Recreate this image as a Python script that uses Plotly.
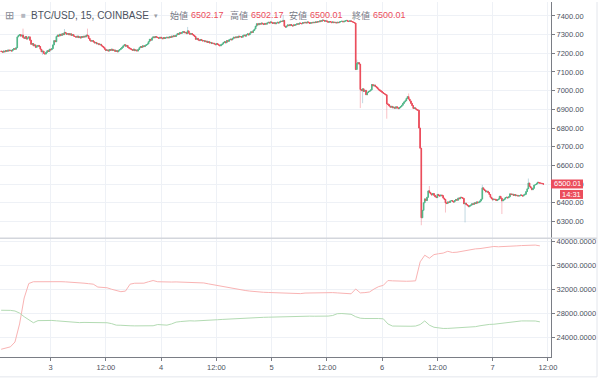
import plotly.graph_objects as go
import pandas as pd

# ---------------- data ----------------
candle_start = "2018-09-02 13:15"   # 15-minute candles
closes = [
    7210, 7206, 7212, 7208, 7215, 7211, 7218, 7214,
    7216, 7212, 7220, 7225, 7222, 7230, 7288, 7296,
    7300, 7292, 7298, 7285, 7280, 7290, 7276, 7282,
    7288, 7270, 7248, 7252, 7240, 7245, 7232, 7238,
    7242, 7236, 7222, 7208, 7212, 7200, 7196, 7205,
    7214, 7210, 7222, 7218, 7225, 7245, 7268, 7262,
    7290, 7298, 7292, 7302, 7296, 7305, 7300, 7312,
    7308, 7302, 7306, 7298, 7304, 7296, 7300, 7292,
    7290, 7286, 7292, 7284, 7288, 7282, 7290, 7286,
    7292, 7288, 7298, 7294, 7280, 7270, 7265, 7268,
    7262, 7255, 7258, 7250, 7252, 7246, 7248, 7240,
    7236, 7230, 7222, 7215, 7218, 7212, 7220, 7216,
    7222, 7215, 7218, 7210, 7214, 7208, 7216, 7220,
    7226, 7232, 7240, 7246, 7238, 7242, 7232, 7228,
    7224, 7220, 7216, 7222, 7214, 7218, 7212, 7220,
    7230, 7236, 7232, 7240, 7236, 7242, 7246, 7250,
    7262, 7275, 7270, 7282, 7288, 7284, 7290, 7286,
    7284, 7280, 7286, 7282, 7278, 7284, 7280, 7283,
    7286, 7282, 7288, 7285, 7292, 7288, 7294, 7290,
    7298, 7305, 7302, 7310, 7306, 7312, 7316, 7310,
    7312, 7305, 7320, 7308, 7302, 7306, 7300, 7296,
    7290, 7275, 7280, 7272, 7268, 7274, 7270, 7266,
    7268, 7262, 7265, 7258, 7262, 7255, 7258, 7252,
    7254, 7250, 7246, 7252, 7248, 7244, 7240, 7246,
    7250, 7258, 7262, 7256, 7268, 7264, 7272, 7276,
    7272, 7280, 7286, 7282, 7288, 7284, 7292, 7288,
    7290, 7286, 7294, 7298, 7292, 7300, 7304, 7298,
    7308, 7315, 7312, 7322, 7330, 7345, 7358, 7352,
    7360, 7356, 7362, 7358, 7354, 7360, 7356, 7362,
    7366, 7362, 7368, 7364, 7360, 7364, 7358, 7362,
    7366, 7362, 7368, 7372, 7370, 7376, 7345, 7340,
    7346, 7352, 7348, 7354, 7350, 7346, 7352, 7350,
    7354, 7358, 7356, 7362, 7360, 7358, 7364, 7362,
    7366, 7362, 7368, 7364, 7360, 7364, 7362, 7366,
    7364, 7368, 7366, 7370, 7368, 7374, 7372, 7378,
    7376, 7372, 7374, 7370, 7366, 7370, 7368, 7364,
    7368, 7364, 7366, 7362, 7366, 7364, 7368, 7370,
    7372, 7368, 7372, 7374, 7376, 7372, 7370, 7374,
    7370, 7368, 7365, 7362, 7113, 7145, 7150, 7142,
    7006, 7000, 7010, 6996, 7002, 6978, 6990, 6996,
    6998, 7004, 7033, 7025, 7030, 7022, 7018, 7010,
    7005, 7000, 6996, 6990, 6985, 6982, 6978, 6930,
    6926, 6918, 6912, 6916, 6908, 6912, 6906, 6914,
    6908, 6904, 6910, 6915, 6922, 6932, 6940, 6946,
    6958, 6968, 6955, 6945, 6932, 6920, 6905, 6908,
    6902, 6898, 6895, 6800, 6692, 6320, 6360, 6400,
    6421, 6412, 6430, 6464, 6455, 6448, 6442, 6450,
    6440, 6432, 6428, 6445, 6440, 6436, 6442, 6438,
    6425, 6418, 6400, 6396, 6405, 6402, 6410, 6412,
    6408, 6404, 6412, 6418, 6414, 6426, 6422, 6430,
    6428, 6424, 6395, 6398, 6390, 6386, 6379, 6384,
    6388, 6395, 6392, 6400, 6396, 6405, 6400, 6404,
    6410, 6420, 6480, 6472, 6466, 6458, 6462, 6455,
    6445, 6430, 6422, 6416, 6420, 6418, 6412, 6416,
    6420, 6435, 6425, 6410, 6415, 6420, 6428, 6430,
    6426, 6432, 6448, 6444, 6446, 6440, 6444, 6438,
    6440, 6436, 6438, 6442, 6440, 6436, 6442, 6446,
    6460, 6475, 6506, 6488, 6480, 6470, 6478, 6495,
    6498, 6502, 6510, 6508, 6505, 6504, 6502.17, 6500.01,
]
first_open = 7212
high_wick_idx = [19, 55, 75, 162, 245, 309, 354, 372, 418, 458]
high_wick_val = [7332, 7330, 7332, 7341, 7405, 7166, 6985, 6490, 6496, 6530]
low_wick_idx = [36, 312, 314, 335, 365, 386, 403, 435]
low_wick_val = [7192, 6907, 6933, 6850, 6280, 6348, 6295, 6340]

# lower-pane indicator lines (hourly samples)
red_line = [
    22100, 22300, 22500, 23300, 26300, 30600, 33000, 33300, 33320, 33280,
    33300, 33340, 33290, 33310, 33280, 33250, 33200, 33100, 33060, 32980,
    32900, 32420, 32350, 32300, 32050, 31900, 31650, 31750, 32900, 33050,
    33080, 33060, 33300, 33500, 33300, 33260, 33280, 33250, 33270, 33240,
    33280, 33250, 33220, 33200, 33100, 32950, 32800, 32650, 32600, 32450,
    32300, 32150, 32000, 31850, 31750, 31650, 31600, 31550, 31520, 31480,
    31450, 31430, 31400, 31380, 31350, 31330, 31420, 31450, 31480, 31500,
    31520, 31560, 31500, 31450, 31400, 31330, 31300, 32100, 31450, 31500,
    31600, 32100, 32500, 32700, 33500, 33450, 33400, 33420, 33380, 33400,
    33450, 36600, 37700, 37200, 37800, 37950, 38050, 38350, 38150, 38200,
    38350, 38500, 38700, 38750, 38800, 38900, 39000, 39150, 39100, 39120,
    39100, 39200, 39250, 39300, 39350, 39400, 39380, 39250,
]
green_line = [
    28570, 28600, 28550, 28450, 28100, 27500, 27000, 26500, 26850, 26900,
    26850, 26880, 26820, 26750, 26650, 26550, 26540, 26520, 26550, 26540,
    26530, 26520, 26540, 26500, 26350, 26100, 26080, 26100, 26000, 25980,
    25960, 25990, 25970, 26000, 26200, 26150, 26100, 26300, 26600, 26700,
    26800, 26820, 26790, 26810, 26850, 26900, 26950, 27000, 27050, 27100,
    27150, 27200, 27250, 27280, 27300, 27350, 27380, 27400, 27420, 27450,
    27480, 27500, 27520, 27540, 27560, 27580, 27570, 27590, 27580, 27560,
    27590, 27600, 27700, 28000, 28030, 27950, 27900, 27500, 27250, 27200,
    27220, 27180, 27200, 27150, 26300, 25950, 25920, 25930, 25900, 25920,
    25950, 26200, 26800, 26100, 25750, 25600, 25550, 25560, 25600, 25700,
    25800, 25820, 25810, 25850, 26000, 26150, 26220, 26250, 26350, 26400,
    26500, 26600, 26750, 26800, 26800, 26810, 26790, 26650,
]

x_tick_vals = ["2018-09-03 00:00", "2018-09-03 12:00", "2018-09-04 00:00", "2018-09-04 12:00",
               "2018-09-05 00:00", "2018-09-05 12:00", "2018-09-06 00:00", "2018-09-06 12:00",
               "2018-09-07 00:00", "2018-09-07 12:00"]
x_tick_text = ["3", "12:00", "4", "12:00", "5", "12:00", "6", "12:00", "7", "12:00"]
price_ticks = [6300, 6400, 6500, 6600, 6700, 6800, 6900, 7000, 7100, 7200, 7300, 7400]
ind_ticks = [24000, 28000, 32000, 36000, 40000]

header_open, header_high, header_low, header_close = "6502.17", "6502.17", "6500.01", "6500.01"
last_price_text = "6500.01"
countdown_text = "14:31"

# ---------------- build ----------------
times = pd.date_range(candle_start, periods=len(closes), freq="15min")
opens = [first_open] + closes[:-1]
body_hi = [max(o, c) for o, c in zip(opens, closes)]
body_lo = [min(o, c) for o, c in zip(opens, closes)]
highs = list(body_hi)
lows = list(body_lo)
for i, v in zip(high_wick_idx, high_wick_val):
    highs[i] = max(highs[i], v)
for i, v in zip(low_wick_idx, low_wick_val):
    lows[i] = min(lows[i], v)
line_times = times[::4][:len(red_line)]

UP, DOWN = "#53b987", "#eb4d5c"
GRID = "#eef1f6"
AX = "#7a7d85"
TXT = "#4c525e"
FONT = "Liberation Sans, Arial, Noto Sans CJK JP, sans-serif"

fig = go.Figure()
fig.add_trace(go.Candlestick(
    x=times, open=opens, high=highs, low=lows, close=closes,
    xaxis="x", yaxis="y", whiskerwidth=0,
    increasing=dict(line=dict(color="rgba(120,170,190,0.45)", width=1), fillcolor="rgba(120,170,190,0.45)"),
    decreasing=dict(line=dict(color="rgba(235,77,92,0.35)", width=1), fillcolor="rgba(235,77,92,0.35)"),
    hoverinfo="skip", showlegend=False))
fig.add_trace(go.Candlestick(
    x=times, open=opens, high=body_hi, low=body_lo, close=closes,
    xaxis="x", yaxis="y", whiskerwidth=0,
    increasing=dict(line=dict(color=UP, width=1), fillcolor=UP),
    decreasing=dict(line=dict(color=DOWN, width=1), fillcolor=DOWN),
    showlegend=False))
fig.add_trace(go.Scatter(x=line_times, y=red_line, mode="lines", xaxis="x2", yaxis="y2",
                         line=dict(color="#f9b3b3", width=1), showlegend=False))
fig.add_trace(go.Scatter(x=line_times, y=green_line, mode="lines", xaxis="x2", yaxis="y2",
                         line=dict(color="#b3dbb3", width=1), showlegend=False))

W_PLOT, H_PLOT = 551.0, 357.0
def px(x):
    return x / W_PLOT
def py(y):
    return 1 - y / H_PLOT

x_range = ["2018-09-02 13:00", "2018-09-07 12:40"]
fig.update_layout(
    width=600, height=380,
    margin=dict(l=0, r=49, t=0, b=23),
    paper_bgcolor="white", plot_bgcolor="white",
    showlegend=False,
    font=dict(family=FONT, size=8, color=TXT),
    xaxis=dict(domain=[0, 1], anchor="y", range=x_range, rangeslider=dict(visible=False),
               tickvals=x_tick_vals, showticklabels=False, showgrid=True, gridcolor=GRID,
               gridwidth=1, showline=False, ticks="", zeroline=False),
    xaxis2=dict(domain=[0, 1], anchor="y2", range=x_range, matches="x",
                tickvals=x_tick_vals, ticktext=x_tick_text, showgrid=True, gridcolor=GRID,
                showline=True, linecolor=AX, linewidth=1, ticks="outside", ticklen=3,
                tickcolor=AX, tickfont=dict(size=7.5, color=TXT), zeroline=False),
    yaxis=dict(domain=[py(237), 1], range=[6213.5, 7474.5], side="right", anchor="x",
               tickvals=price_ticks, tickformat=".2f", showgrid=True, gridcolor=GRID,
               showline=True, linecolor=AX, linewidth=1, ticks="outside", ticklen=3,
               tickcolor=AX, tickfont=dict(size=7.5, color=TXT), zeroline=False),
    yaxis2=dict(domain=[0, py(238)], range=[20817, 40445], side="right", anchor="x2",
                tickvals=ind_ticks, tickformat=".4f", showgrid=True, gridcolor=GRID,
                showline=True, linecolor=AX, linewidth=1, ticks="outside", ticklen=3,
                tickcolor=AX, tickfont=dict(size=7.5, color=TXT), zeroline=False),
)

shapes = [
    # pane separator
    dict(type="line", xref="paper", yref="paper", x0=0, x1=px(597), y0=py(237.5), y1=py(237.5),
         line=dict(color="#d3d6dc", width=1.5)),
    # widget border
    dict(type="line", xref="paper", yref="paper", x0=px(597), x1=px(597), y0=1, y1=py(377),
         line=dict(color="#e3e6ec", width=1)),
    dict(type="line", xref="paper", yref="paper", x0=0, x1=px(597), y0=py(377), y1=py(377),
         line=dict(color="#e3e6ec", width=1)),
    # last price labels
    dict(type="rect", xref="paper", yref="paper", x0=px(551), x1=px(583), y0=py(187.5), y1=py(178.5),
         fillcolor=DOWN, line=dict(width=0)),
    dict(type="rect", xref="paper", yref="paper", x0=px(560), x1=px(583), y0=py(198), y1=py(189),
         fillcolor=DOWN, line=dict(width=0)),
]
fig.update_layout(shapes=shapes)

def ann(x, y, text, size, color, anchor="left"):
    fig.add_annotation(xref="paper", yref="paper", x=px(x), y=py(y), text=text,
                       showarrow=False, xanchor=anchor, yanchor="middle",
                       font=dict(size=size, color=color, family=FONT))

ann(3, 13.5, "⊞", 11, "#8a8e98")
ann(19, 13.5, "■", 8, "#b5b8c0")
ann(29, 13.5, "BTC/USD, 15, COINBASE", 10, TXT)
ann(152, 13.5, "▾", 7, "#9a9da6")
ann(168, 13.5, "始値", 9, "#787b86")
ann(189, 13.5, header_open, 9, DOWN)
ann(228, 13.5, "高値", 9, "#787b86")
ann(249, 13.5, header_high, 9, DOWN)
ann(287, 13.5, "安値", 9, "#787b86")
ann(308, 13.5, header_low, 9, DOWN)
ann(350, 13.5, "終値", 9, "#787b86")
ann(371, 13.5, header_close, 9, DOWN)
ann(567, 183, last_price_text, 7.5, "white", anchor="center")
ann(571.5, 193.5, countdown_text, 7.5, "white", anchor="center")

fig.write_html("out.html", config={"displayModeBar": False},
               post_script="document.body.style.margin='0';document.body.style.overflow='hidden';")
